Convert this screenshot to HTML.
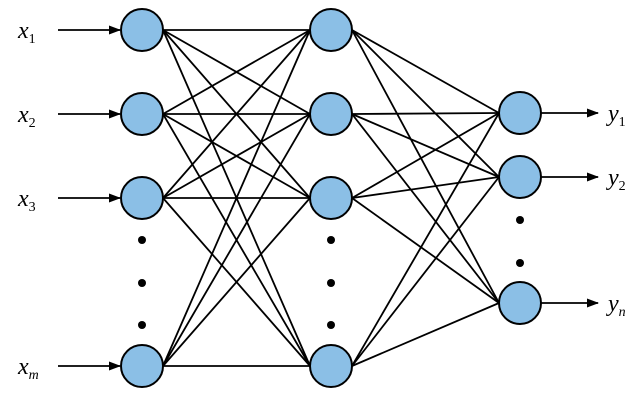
<!DOCTYPE html>
<html><head><style>body{margin:0;background:#fff}svg{display:block}text{font-family:"Liberation Serif",serif}</style></head><body>
<svg width="644" height="404" xmlns="http://www.w3.org/2000/svg">
<defs><marker id="a" markerWidth="12" markerHeight="9" refX="11" refY="4.5" orient="auto" markerUnits="userSpaceOnUse"><path d="M0,0 L12,4.5 L0,9 Z" fill="#000"/></marker></defs>
<g stroke="#000" stroke-width="1.8">
<line x1="163" y1="30" x2="310" y2="30"/><line x1="163" y1="30" x2="310" y2="114"/><line x1="163" y1="30" x2="310" y2="198"/><line x1="163" y1="30" x2="310" y2="366"/>
<line x1="163" y1="114" x2="310" y2="30"/><line x1="163" y1="114" x2="310" y2="114"/><line x1="163" y1="114" x2="310" y2="198"/><line x1="163" y1="114" x2="310" y2="366"/>
<line x1="163" y1="198" x2="310" y2="30"/><line x1="163" y1="198" x2="310" y2="114"/><line x1="163" y1="198" x2="310" y2="198"/><line x1="163" y1="198" x2="310" y2="366"/>
<line x1="163" y1="366" x2="310" y2="30"/><line x1="163" y1="366" x2="310" y2="114"/><line x1="163" y1="366" x2="310" y2="198"/><line x1="163" y1="366" x2="310" y2="366"/>
<line x1="352" y1="30" x2="499" y2="113"/><line x1="352" y1="30" x2="499" y2="177"/><line x1="352" y1="30" x2="499" y2="303"/>
<line x1="352" y1="114" x2="499" y2="113"/><line x1="352" y1="114" x2="499" y2="177"/><line x1="352" y1="114" x2="499" y2="303"/>
<line x1="352" y1="198" x2="499" y2="113"/><line x1="352" y1="198" x2="499" y2="177"/><line x1="352" y1="198" x2="499" y2="303"/>
<line x1="352" y1="366" x2="499" y2="113"/><line x1="352" y1="366" x2="499" y2="177"/><line x1="352" y1="366" x2="499" y2="303"/>
<line x1="58" y1="30" x2="120" y2="30" marker-end="url(#a)"/><line x1="58" y1="114" x2="120" y2="114" marker-end="url(#a)"/><line x1="58" y1="198" x2="120" y2="198" marker-end="url(#a)"/><line x1="58" y1="366" x2="120" y2="366" marker-end="url(#a)"/>
<line x1="541" y1="113" x2="598" y2="113" marker-end="url(#a)"/><line x1="541" y1="177" x2="598" y2="177" marker-end="url(#a)"/><line x1="541" y1="303" x2="598" y2="303" marker-end="url(#a)"/>
</g>
<g fill="#8bbfe6" stroke="#000" stroke-width="2">
<circle cx="142" cy="30" r="21"/><circle cx="142" cy="114" r="21"/><circle cx="142" cy="198" r="21"/><circle cx="142" cy="366" r="21"/>
<circle cx="331" cy="30" r="21"/><circle cx="331" cy="114" r="21"/><circle cx="331" cy="198" r="21"/><circle cx="331" cy="366" r="21"/>
<circle cx="520" cy="113" r="21"/><circle cx="520" cy="177" r="21"/><circle cx="520" cy="303" r="21"/>
</g>
<g fill="#000">
<circle cx="142" cy="240" r="4"/><circle cx="142" cy="283" r="4"/><circle cx="142" cy="325" r="4"/>
<circle cx="331" cy="240" r="4"/><circle cx="331" cy="283" r="4"/><circle cx="331" cy="325" r="4"/>
<circle cx="520" cy="220" r="4"/><circle cx="520" cy="263" r="4"/>
</g>
<g font-style="italic" font-size="24">
<text x="18" y="38">x<tspan font-size="14" font-style="normal" dy="5">1</tspan></text>
<text x="18" y="122">x<tspan font-size="14" font-style="normal" dy="5">2</tspan></text>
<text x="18" y="206">x<tspan font-size="14" font-style="normal" dy="5">3</tspan></text>
<text x="18" y="374">x<tspan font-size="14" dy="5">m</tspan></text>
<text x="608" y="121">y<tspan font-size="14" font-style="normal" dy="5">1</tspan></text>
<text x="608" y="185">y<tspan font-size="14" font-style="normal" dy="5">2</tspan></text>
<text x="608" y="311">y<tspan font-size="14" dy="5">n</tspan></text>
</g>
</svg>
</body></html>
